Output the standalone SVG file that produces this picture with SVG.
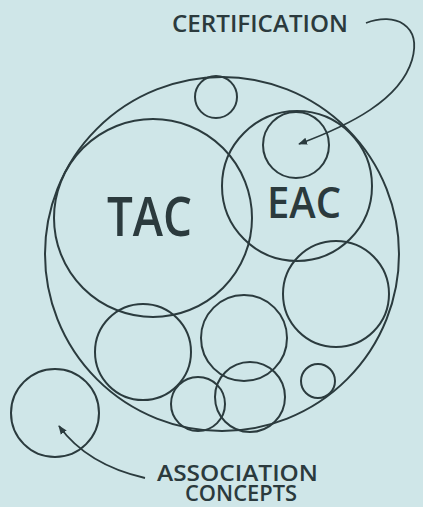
<svg xmlns="http://www.w3.org/2000/svg" width="423" height="507" viewBox="0 0 423 507">
<defs>
<style>
.c{fill:none;stroke:#2b3b3e;stroke-width:2}
.t{font-family:"Open Sans","Liberation Sans",sans-serif;font-weight:600;fill:#2b3a3d}
.l{fill:none;stroke:#2b3b3e;stroke-width:1.8}
</style>
<marker id="ah" viewBox="0 0 10 10" refX="9" refY="5" markerWidth="9" markerHeight="9" orient="auto" markerUnits="userSpaceOnUse">
<path d="M0,1 L10,5 L0,9 Z" fill="#2b3b3e"/>
</marker>
</defs>
<rect width="423" height="507" fill="#cfe6e8"/>
<g id="outer"><circle class="c" cx="222" cy="254" r="177"/></g>
<g id="tac"><circle class="c" cx="153" cy="218" r="99"/><text class="t" x="107" y="236" font-size="55" textLength="85" lengthAdjust="spacingAndGlyphs">TAC</text></g>
<g id="eac"><circle class="c" cx="297" cy="186" r="75"/><text class="t" x="267" y="218" font-size="43" textLength="74" lengthAdjust="spacingAndGlyphs">EAC</text></g>
<g id="cert-circle"><circle class="c" cx="296" cy="145" r="33"/></g>
<g id="top-small"><circle class="c" cx="216" cy="97" r="21"/></g>
<g id="right-mid"><circle class="c" cx="336" cy="294" r="53"/></g>
<g id="lower-left"><circle class="c" cx="143" cy="352" r="48"/></g>
<g id="middle"><circle class="c" cx="244" cy="338" r="43"/></g>
<g id="bottom-small"><circle class="c" cx="198" cy="404" r="27"/></g>
<g id="bottom-mid"><circle class="c" cx="250" cy="397" r="35"/></g>
<g id="tiny"><circle class="c" cx="318" cy="381" r="17"/></g>
<g id="outside"><circle class="c" cx="55" cy="413" r="44"/></g>
<g id="certification"><text class="t" x="172" y="32" font-size="23" textLength="176" lengthAdjust="spacingAndGlyphs">CERTIFICATION</text></g>
<g id="association"><text class="t" x="157" y="481" font-size="21" textLength="161" lengthAdjust="spacingAndGlyphs">ASSOCIATION</text><text class="t" x="185" y="501" font-size="21" textLength="112" lengthAdjust="spacingAndGlyphs">CONCEPTS</text></g>
<g id="connectors">
<path class="l" d="M366,23 C395,12 422,25 412,60 C400,100 350,125 299,144" marker-end="url(#ah)"/>
<path class="l" d="M145,478 C110,470 80,455 59,426" marker-end="url(#ah)"/>
</g>
</svg>
